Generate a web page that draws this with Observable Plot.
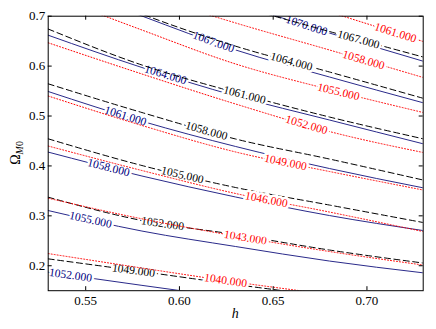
<!DOCTYPE html>
<html><head><meta charset="utf-8">
<script src="https://cdn.jsdelivr.net/npm/d3@7"></script>
<script src="https://cdn.jsdelivr.net/npm/@observablehq/plot@0.6"></script>
<style>body{margin:0;background:#fff} svg{display:block}</style>
</head><body><div id="chart"></div>
<script>
// sample abscissae (h) at which each contour's Omega_M0 was read
const hGrid = [0.53, 0.58, 0.63, 0.68, 0.73];
const xTicks = [0.55, 0.60, 0.65, 0.70];
const yTicks = [0.2, 0.3, 0.4, 0.5, 0.6, 0.7];

// navy solid contours
const navyLevels = [1052, 1055, 1058, 1061, 1064, 1067, 1070];
const navyOmega = [
  [0.1874, 0.1607, 0.1353, 0.1122, 0.0902],
  [0.3106, 0.2695, 0.2385, 0.2094, 0.1858],
  [0.4277, 0.3798, 0.3377, 0.3006, 0.2705],
  [0.5491, 0.4896, 0.4389, 0.3948, 0.3561],
  [0.6619, 0.5972, 0.5401, 0.4920, 0.4443],
  [0.7735, 0.7004, 0.6323, 0.5782, 0.5265],
  [0.8617, 0.7916, 0.7271, 0.6663, 0.6098]
];
const navyLabelH = [0.5419, 0.5526, 0.5622, 0.5712, 0.5926, 0.6182, 0.6678];

// black dashed contours
const blackLevels = [1049, 1052, 1055, 1058, 1061, 1064, 1067];
const blackOmega = [
  [0.2138, 0.1884, 0.1623, 0.1383, 0.1162],
  [0.3373, 0.2906, 0.2625, 0.2315, 0.2054],
  [0.4543, 0.4008, 0.3567, 0.3216, 0.2866],
  [0.5645, 0.5070, 0.4539, 0.4138, 0.3717],
  [0.6743, 0.6022, 0.5471, 0.4980, 0.4543],
  [0.7836, 0.7044, 0.6399, 0.5882, 0.5355],
  [0.8417, 0.7796, 0.7222, 0.6693, 0.6182]
];
const blackLabelH = [0.5755, 0.5910, 0.6016, 0.6144, 0.6347, 0.6598, 0.6955];

// red dotted contours
const redLevels = [1040, 1043, 1046, 1049, 1052, 1055, 1058, 1061];
const redOmega = [
  [0.2244, 0.1954, 0.1673, 0.1423, 0.1182],
  [0.3353, 0.2940, 0.2595, 0.2285, 0.2014],
  [0.4399, 0.3908, 0.3447, 0.3076, 0.2685],
  [0.5401, 0.4810, 0.4279, 0.3888, 0.3517],
  [0.6467, 0.5842, 0.5240, 0.4689, 0.4269],
  [0.7435, 0.6723, 0.6042, 0.5531, 0.5070],
  [0.8156, 0.7455, 0.6864, 0.6323, 0.5772],
  [0.8918, 0.8216, 0.7655, 0.7084, 0.6493]
];
const redLabelH = [0.6246, 0.6352, 0.6464, 0.6566, 0.6678, 0.6848, 0.6982, 0.7152];

const W = 436, H = 329, mL = 47.7, mR = 13.3, mT = 15.7, mB = 38.8;
const xDomain = [0.53, 0.73], yDomain = [0.15, 0.7];
const xs = d3.scaleLinear(xDomain, [mL, W - mR]);
const ys = d3.scaleLinear(yDomain, [H - mB, mT]);
const FW = W - mL - mR, FH = H - mT - mB;
const serif = "'Liberation Serif', 'DejaVu Serif', serif";

function lineRows(levels, omega) {
  const rows = [];
  levels.forEach((lev, i) => hGrid.forEach((h, j) => rows.push({level: lev, h, omega: omega[i][j]})));
  return rows;
}
function labelRows(levels, omega, labelH) {
  return levels.map((lev, i) => {
    const h = labelH[i];
    let j = 0;
    while (j < hGrid.length - 2 && h > hGrid[j + 1]) j++;
    const t = (h - hGrid[j]) / (hGrid[j + 1] - hGrid[j]);
    const o = omega[i][j] + t * (omega[i][j + 1] - omega[i][j]);
    const dx = xs(hGrid[j + 1]) - xs(hGrid[j]);
    const dy = ys(omega[i][j + 1]) - ys(omega[i][j]);
    return {h, omega: o, angle: Math.atan2(dy, dx) * 180 / Math.PI, label: lev.toFixed(3)};
  });
}

const series = [
  {levels: navyLevels, omega: navyOmega, labelH: navyLabelH, color: "#000080", line: "#2a2a8a", dash: null},
  {levels: blackLevels, omega: blackOmega, labelH: blackLabelH, color: "#000000", line: "#000000", dash: "6,3.5"},
  {levels: redLevels, omega: redOmega, labelH: redLabelH, color: "#ff0000", line: "#ff0000", dash: "1,2"}
];

const marks = [];
for (const s of series) {
  marks.push(Plot.line(lineRows(s.levels, s.omega), {
    x: "h", y: "omega", z: "level", stroke: s.line, strokeWidth: 1,
    strokeDasharray: s.dash, curve: "monotone-x", clip: true
  }));
  marks.push(Plot.text(labelRows(s.levels, s.omega, s.labelH), {
    x: "h", y: "omega", text: "label", rotate: "angle", fill: s.color,
    stroke: "white", strokeWidth: 5, fontSize: 11.5, fontFamily: serif, clip: true
  }));
}
// inward ticks on all four sides
marks.push(Plot.tickX(xTicks, {x: d => d, insetTop: FH - 4, stroke: "black"}));
marks.push(Plot.tickX(xTicks, {x: d => d, insetBottom: FH - 4, stroke: "black"}));
marks.push(Plot.tickY(yTicks, {y: d => d, insetRight: FW - 4, stroke: "black"}));
marks.push(Plot.tickY(yTicks, {y: d => d, insetLeft: FW - 4, stroke: "black"}));
marks.push(Plot.frame({stroke: "black", strokeWidth: 1}));

const chart = Plot.plot({
  width: W, height: H,
  marginLeft: mL, marginRight: mR, marginTop: mT, marginBottom: mB,
  style: {fontSize: "13px", fontFamily: serif, background: "white", color: "black"},
  x: {domain: xDomain, ticks: xTicks, tickFormat: d3.format(".2f"), tickSize: 0, tickPadding: 5, label: null},
  y: {domain: yDomain, ticks: yTicks, tickFormat: d3.format(".1f"), tickSize: 0, tickPadding: 3, label: null},
  marks
});

// axis titles
const svg = d3.select(chart);
svg.append("text")
  .attr("x", mL + FW / 2).attr("y", H - mB + 28)
  .attr("text-anchor", "middle")
  .style("font-family", serif).style("font-style", "italic").style("font-size", "14px")
  .text("h");
const yl = svg.append("text")
  .attr("transform", `translate(20,${mT + FH / 2}) rotate(-90)`)
  .attr("text-anchor", "middle")
  .style("font-family", serif).style("font-size", "14px");
yl.append("tspan").text("Ω");
yl.append("tspan").attr("dy", "3").style("font-size", "10px").style("font-style", "italic").text("M");
yl.append("tspan").style("font-size", "10px").text("0");

document.getElementById("chart").appendChild(chart);
</script>
</body></html>
